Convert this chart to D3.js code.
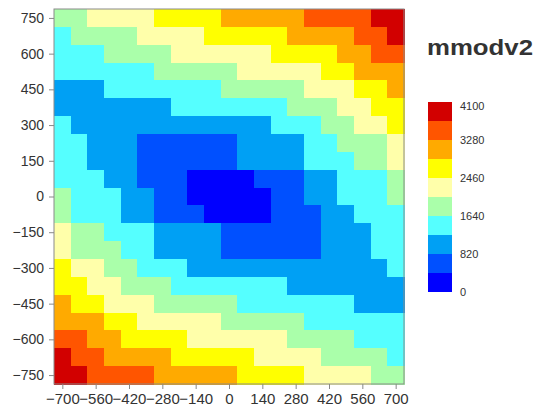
<!DOCTYPE html>
<meta charset="utf-8">
<style>
body { margin: 0; background: #fff; }
text { font-family: "Liberation Sans", Arial, sans-serif; fill: #333; }
.axis path { display: none; }
.axis line { stroke: #888; }
</style>
<svg id="chart" width="540" height="412"></svg>
<script src="https://cdnjs.cloudflare.com/ajax/libs/d3/7.8.5/d3.min.js"></script>
<script>
// cell centres (x across, y from top row down)
var xCenters = [-700,-630,-560,-490,-420,-350,-280,-210,-140,-70,0,70,140,210,280,350,420,490,560,630,700];
var yCenters = [750,675,600,525,450,375,300,225,150,75,0,-75,-150,-225,-300,-375,-450,-525,-600,-675,-750];

// mmodv2 values, one row per yCenter
var zRows = [
  [1845,1845,2255,2255,2255,2255,2665,2665,2665,2665,3075,3075,3075,3075,3075,3485,3485,3485,3485,3895,3895],
  [1435,1845,1845,1845,1845,2255,2255,2255,2255,2665,2665,2665,2665,2665,3075,3075,3075,3075,3485,3485,3895],
  [1435,1435,1435,1845,1845,1845,1845,2255,2255,2255,2255,2255,2255,2665,2665,2665,2665,3075,3075,3485,3485],
  [1435,1435,1435,1435,1435,1435,1845,1845,1845,1845,1845,2255,2255,2255,2255,2255,2665,2665,3075,3075,3075],
  [1025,1025,1025,1435,1435,1435,1435,1435,1435,1435,1845,1845,1845,1845,1845,2255,2255,2255,2665,2665,3075],
  [1025,1025,1025,1025,1025,1025,1025,1435,1435,1435,1435,1435,1435,1435,1845,1845,1845,2255,2255,2665,2665],
  [1435,1025,1025,1025,1025,1025,1025,1025,1025,1025,1025,1025,1025,1435,1435,1435,1845,1845,2255,2255,2665],
  [1435,1435,1025,1025,1025,615,615,615,615,615,615,1025,1025,1025,1025,1435,1435,1845,1845,1845,2255],
  [1435,1435,1025,1025,1025,615,615,615,615,615,615,1025,1025,1025,1025,1435,1435,1435,1845,1845,2255],
  [1435,1435,1435,1025,1025,615,615,615,205,205,205,205,615,615,615,1025,1025,1435,1435,1435,1845],
  [1845,1435,1435,1435,1025,1025,615,615,205,205,205,205,205,615,615,1025,1025,1435,1435,1435,1845],
  [1845,1435,1435,1435,1025,1025,615,615,615,205,205,205,205,615,615,615,1025,1025,1435,1435,1435],
  [2255,1845,1845,1435,1435,1435,1025,1025,1025,1025,615,615,615,615,615,615,1025,1025,1025,1435,1435],
  [2255,1845,1845,1845,1435,1435,1025,1025,1025,1025,615,615,615,615,615,615,1025,1025,1025,1435,1435],
  [2665,2255,2255,1845,1845,1435,1435,1435,1025,1025,1025,1025,1025,1025,1025,1025,1025,1025,1025,1025,1435],
  [2665,2665,2255,2255,1845,1845,1845,1435,1435,1435,1435,1435,1435,1435,1025,1025,1025,1025,1025,1025,1025],
  [3075,2665,2665,2255,2255,2255,1845,1845,1845,1845,1845,1435,1435,1435,1435,1435,1435,1435,1025,1025,1025],
  [3075,3075,3075,2665,2665,2255,2255,2255,2255,2255,1845,1845,1845,1845,1845,1435,1435,1435,1435,1435,1435],
  [3485,3485,3075,3075,2665,2665,2665,2665,2255,2255,2255,2255,2255,2255,1845,1845,1845,1845,1435,1435,1435],
  [3895,3485,3485,3075,3075,3075,3075,2665,2665,2665,2665,2665,2255,2255,2255,2255,1845,1845,1845,1845,1435],
  [3895,3895,3485,3485,3485,3485,3075,3075,3075,3075,3075,2665,2665,2665,2665,2255,2255,2255,2255,1845,1845]
];

var breaks = [410,820,1230,1640,2050,2460,2870,3280,3690];
var colors = ["#0000ff","#0050ff","#00a0f4","#55ffff","#aaffaa","#ffffaa","#ffff00","#ffaa00","#ff5500","#d20000"];
var xTicks = [-700,-560,-420,-280,-140,0,140,280,420,560,700];
var yTicks = [-750,-600,-450,-300,-150,0,150,300,450,600,750];
var legendTicks = [0,820,1640,2460,3280,4100];
var title = "mmodv2";

var svg = d3.select("#chart");
var dx = 35, dy = 37.5;

var x = d3.scaleLinear().domain([-735, 735]).range([54, 404]),
    y = d3.scaleLinear().domain([-787.5, 787.5]).range([384, 9]),
    color = d3.scaleThreshold().domain(breaks).range(colors);

var cells = [];
zRows.forEach(function(row, i) {
  row.forEach(function(v, j) {
    cells.push({x: xCenters[j], y: yCenters[i], v: v});
  });
});

svg.append("g")
    .attr("shape-rendering", "crispEdges")
  .selectAll("rect")
  .data(cells)
  .enter().append("rect")
    .attr("x", function(d) { return x(d.x - dx); })
    .attr("y", function(d) { return y(d.y + dy); })
    .attr("width", function(d) { return x(d.x + dx) - x(d.x - dx) + 0.5; })
    .attr("height", function(d) { return y(d.y - dy) - y(d.y + dy) + 0.5; })
    .attr("fill", function(d) { return color(d.v); });

// frame
svg.append("rect")
    .attr("x", 54).attr("y", 9)
    .attr("width", 350).attr("height", 375)
    .attr("fill", "none")
    .attr("stroke", "#8a8a8a");

svg.append("g")
    .attr("class", "axis")
    .attr("transform", "translate(0,384)")
    .call(d3.axisBottom(x).tickValues(xTicks).tickSize(5).tickPadding(4))
    .selectAll("text").style("font-size", "15px").attr("fill", "#333");

svg.append("g")
    .attr("class", "axis")
    .attr("transform", "translate(54,0)")
    .call(d3.axisLeft(y).tickValues(yTicks).tickSize(5).tickPadding(5))
    .selectAll("text").style("font-size", "14px").attr("fill", "#333");

// title
svg.append("text")
    .attr("x", 427)
    .attr("y", 55)
    .style("font-size", "22px")
    .style("font-weight", "bold")
    .attr("fill", "#111")
    .attr("textLength", 106)
    .attr("lengthAdjust", "spacingAndGlyphs")
    .text(title);

// colour legend
var ly = d3.scaleLinear().domain([0, 4100]).range([292, 102]);
var legendBins = colors.map(function(c, i) {
  return {c: c, lo: i === 0 ? 0 : breaks[i - 1], hi: i === colors.length - 1 ? 4100 : breaks[i]};
});

svg.append("g")
  .selectAll("rect")
  .data(legendBins)
  .enter().append("rect")
    .attr("x", 428)
    .attr("width", 24)
    .attr("y", function(d) { return ly(d.hi); })
    .attr("height", function(d) { return ly(d.lo) - ly(d.hi); })
    .attr("fill", function(d) { return d.c; });

svg.append("g")
  .selectAll("text")
  .data(legendTicks)
  .enter().append("text")
    .attr("x", 460)
    .attr("y", function(d) { return Math.max(ly(d), 106); })
    .attr("dy", "0.35em")
    .style("font-size", "11px")
    .text(function(d) { return d; });
</script>
